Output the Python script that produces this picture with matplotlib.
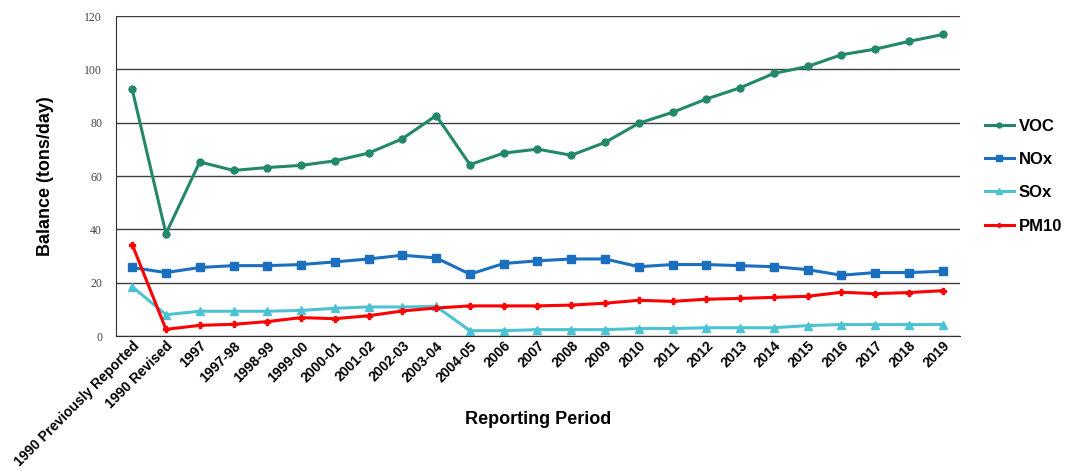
import numpy as np
import matplotlib.pyplot as plt

periods = ['1990 Previously Reported', '1990 Revised', '1997', '1997-98', '1998-99',
           '1999-00', '2000-01', '2001-02', '2002-03', '2003-04', '2004-05', '2006',
           '2007', '2008', '2009', '2010', '2011', '2012', '2013', '2014', '2015',
           '2016', '2017', '2018', '2019']

voc = [92.5, 38.4, 65.3, 62.1, 63.2, 64.0, 65.7, 68.6, 74.0, 82.7, 64.3, 68.6,
       70.1, 67.8, 72.6, 79.8, 83.9, 88.9, 93.1, 98.5, 101.1, 105.5, 107.6, 110.5, 113.1]
nox = [25.7, 23.8, 25.7, 26.4, 26.4, 26.8, 27.8, 28.9, 30.3, 29.3, 23.2, 27.2,
       28.2, 28.9, 28.9, 26.0, 26.8, 26.8, 26.4, 26.0, 24.9, 22.8, 23.8, 23.8, 24.3]
sox = [18.5, 8.0, 9.3, 9.3, 9.3, 9.6, 10.4, 10.9, 10.9, 11.1, 2.0, 2.0,
       2.4, 2.4, 2.4, 2.8, 2.8, 3.1, 3.1, 3.1, 3.9, 4.3, 4.3, 4.3, 4.3]
pm10 = [34.3, 2.5, 4.0, 4.4, 5.4, 6.9, 6.5, 7.6, 9.4, 10.5, 11.3, 11.3,
        11.3, 11.6, 12.3, 13.4, 13.0, 13.8, 14.1, 14.5, 14.9, 16.4, 15.9, 16.3, 17.0]

plt.rcParams['font.family'] = ['Liberation Sans', 'DejaVu Sans']

fig = plt.figure(figsize=(10.67, 4.73), dpi=100)
ax = fig.add_axes([0.1087, 0.2896, 0.7910, 0.6764])

x = np.arange(len(periods))
ax.plot(x, voc, color='#23876a', marker='o', markersize=5, lw=2.2, label='VOC')
ax.plot(x, nox, color='#1a6fbf', marker='s', markersize=5.5, lw=2.2, label='NOx')
ax.plot(x, sox, color='#4cc3d3', marker='^', markersize=5.5, lw=2.2, label='SOx')
ax.plot(x, pm10, color='#ff0000', marker='P', markersize=4, lw=2.2, label='PM10')

ax.set_xlim(-0.48, 24.51)
ax.set_ylim(0, 120)
ax.set_yticks(np.arange(0, 121, 20))
ax.yaxis.grid(True, color='#404040', lw=1)
ax.set_axisbelow(True)
for s in ['top', 'right']:
    ax.spines[s].set_visible(False)
ax.spines['left'].set_color('#303030')
ax.spines['bottom'].set_color('#303030')
ax.tick_params(axis='y', length=0, pad=10, labelsize=8.5, labelcolor='#444444')
for lbl in ax.get_yticklabels():
    lbl.set_family('Liberation Serif')
ax.tick_params(axis='x', length=0, pad=2)

ax.set_xticks(x)
ax.set_xticklabels(periods, rotation=45, ha='right', rotation_mode='anchor',
                   fontsize=10, fontweight='bold')

ax.set_ylabel('Balance (tons/day)', fontsize=13, fontweight='bold', labelpad=22)
ax.set_xlabel('Reporting Period', fontsize=13, fontweight='bold')
ax.xaxis.set_label_coords(0.5, -0.235)

ax.legend(loc='center left', bbox_to_anchor=(1.03, 0.5), frameon=False,
          borderaxespad=0, borderpad=0,
          prop={'size': 12, 'weight': 'bold'}, handlelength=1.7, labelspacing=1.1,
          handletextpad=0.3, markerscale=0.7)

fig.savefig('out.png', dpi=100)
